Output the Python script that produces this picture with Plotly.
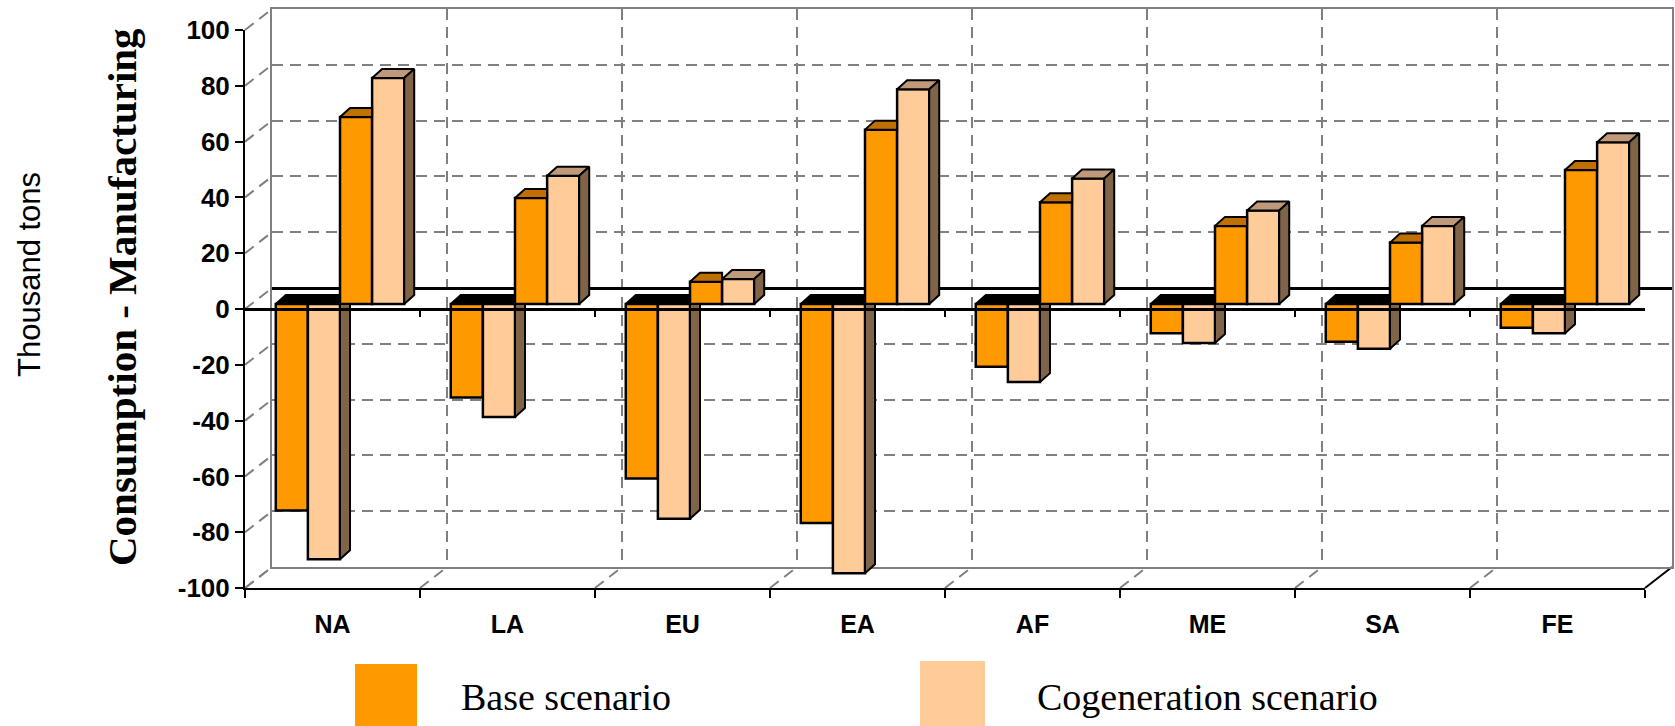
import plotly.graph_objects as go

W, H = 1675, 726

# ---- data -------------------------------------------------------------
regions = ["NA", "LA", "EU", "EA", "AF", "ME", "SA", "FE"]
consumption_base = [-74, -33.5, -62.5, -78.5, -22.5, -10.5, -13.5, -8.5]
consumption_cogen = [-91.5, -40.5, -77, -96.5, -28, -14, -16, -10.5]
manufacturing_base = [67, 38, 8, 62.5, 36.5, 28, 22, 48]
manufacturing_cogen = [81, 46, 9, 77, 45, 33.5, 28, 58]
y_ticks = list(range(-100, 101, 20))
y_tick_text = [str(v) for v in y_ticks]
legend_labels = ["Base scenario", "Cogeneration scenario"]

# ---- styling ----------------------------------------------------------
ORANGE = "#FF9900"
PEACH = "#FFCC99"
ORANGE_TOP = "#C07000"
PEACH_TOP = "#C0987A"
SIDE = "#806448"
GRID = "#808080"
GRID_DASH = "11px,7px"
SANS = "Liberation Sans, Arial, sans-serif"
SERIF = "Liberation Serif, Times New Roman, serif"

# pixel layout of the pseudo-3D box
FRONT_L, FRONT_R, FRONT_T, FRONT_B = 245, 1645, 30, 588
DEPTH_X, DEPTH_Y = 27, 21          # shift from front plane to back wall
BAR_X, BAR_Y = 7.5, 5              # shift from front plane to bar faces
CAT_PX = (FRONT_R - FRONT_L) / 8
VAL_PX = (FRONT_B - FRONT_T) / 200
FACE_DX, FACE_DY = 10, 9           # visible depth of each column


def px(x):
    return x / W


def py(y):
    return 1 - y / H


n_series = 4
gap = 1.45
bar_w = 1 / (n_series + gap)
ddx = FACE_DX / CAT_PX
ddy = FACE_DY / VAL_PX


def centers(k):
    return [i + 0.5 + (k - 1.5) * bar_w for i in range(len(regions))]


series = [
    (consumption_base, ORANGE, legend_labels[0]),
    (consumption_cogen, PEACH, legend_labels[1]),
    (manufacturing_base, ORANGE, legend_labels[0]),
    (manufacturing_cogen, PEACH, legend_labels[1]),
]

fig = go.Figure()

# empty traces so the back-wall and front-axis subplots are always built
fig.add_trace(go.Scatter(x=[], y=[], xaxis="x", yaxis="y",
                         showlegend=False, hoverinfo="skip"))

# front faces of the columns
for k, (vals, color, name) in enumerate(series):
    fig.add_trace(go.Bar(
        x=centers(k), y=vals, width=bar_w, name=name,
        marker=dict(color=color, line=dict(color="black", width=2.5)),
        xaxis="x2", yaxis="y2", showlegend=False, hoverinfo="skip",
    ))


def face(xs, ys, color):
    fig.add_trace(go.Scatter(
        x=xs, y=ys, mode="lines", fill="toself", fillcolor=color,
        line=dict(color="black", width=2), xaxis="x2", yaxis="y2",
        showlegend=False, hoverinfo="skip",
    ))


# top and side faces derived from the same values
neg_top_x, neg_top_y = [], []
neg_side_x, neg_side_y = [], []
ob_top_x, ob_top_y = [], []
pc_top_x, pc_top_y = [], []
pc_side_x, pc_side_y = [], []
for i in range(len(regions)):
    # consumption pair (below zero)
    x0 = centers(0)[i] - bar_w / 2
    x1 = centers(1)[i] + bar_w / 2
    v = consumption_cogen[i]
    neg_top_x += [x0, x1, x1, x0 + ddx, x0, None]
    neg_top_y += [0, 0, ddy, ddy, 0, None]
    neg_side_x += [x1, x1 + ddx, x1 + ddx, x1, x1, None]
    neg_side_y += [0, 0, v + ddy, v, 0, None]

    # manufacturing pair (above zero)
    a0 = centers(2)[i] - bar_w / 2
    a1 = centers(2)[i] + bar_w / 2
    t = manufacturing_base[i]
    ob_top_x += [a0, a1, a1, a0 + ddx, a0, None]
    ob_top_y += [t, t, t + ddy, t + ddy, t, None]

    b0 = centers(3)[i] - bar_w / 2
    b1 = centers(3)[i] + bar_w / 2
    t = manufacturing_cogen[i]
    pc_top_x += [b0, b1, b1 + ddx, b0 + ddx, b0, None]
    pc_top_y += [t, t, t + ddy, t + ddy, t, None]
    pc_side_x += [b1, b1 + ddx, b1 + ddx, b1, b1, None]
    pc_side_y += [0, ddy, t + ddy, t, 0, None]

face(neg_top_x, neg_top_y, "black")
face(neg_side_x, neg_side_y, SIDE)
face(ob_top_x, ob_top_y, ORANGE_TOP)
face(pc_top_x, pc_top_y, PEACH_TOP)
face(pc_side_x, pc_side_y, SIDE)

fig.add_trace(go.Scatter(x=[], y=[], xaxis="x3", yaxis="y3",
                         showlegend=False, hoverinfo="skip"))

# ---- axes -------------------------------------------------------------
boundaries = list(range(len(regions) + 1))

back_x = dict(
    domain=[px(FRONT_L + DEPTH_X), px(FRONT_R + DEPTH_X)], range=[0, 8],
    tickvals=boundaries, showticklabels=False, ticks="",
    showgrid=True, gridcolor=GRID, gridwidth=2, griddash=GRID_DASH,
    zeroline=False, showline=True, linecolor=GRID, linewidth=2, mirror=True,
    anchor="y", fixedrange=True, automargin=False,
)
back_y = dict(
    domain=[py(FRONT_B - DEPTH_Y), py(FRONT_T - DEPTH_Y)], range=[-100, 100],
    tickvals=y_ticks, showticklabels=False, ticks="",
    showgrid=True, gridcolor=GRID, gridwidth=2, griddash=GRID_DASH,
    zeroline=True, zerolinecolor="black", zerolinewidth=2.5,
    showline=True, linecolor=GRID, linewidth=2, mirror=True,
    anchor="x", fixedrange=True, automargin=False,
)
bar_x = dict(
    domain=[px(FRONT_L + BAR_X), px(FRONT_R + BAR_X)], range=[0, 8],
    visible=False, anchor="y2", fixedrange=True, automargin=False,
)
bar_y = dict(
    domain=[py(FRONT_B - BAR_Y), py(FRONT_T - BAR_Y)], range=[-100, 100],
    visible=False, anchor="x2", fixedrange=True, automargin=False,
)
front_x = dict(
    domain=[px(FRONT_L), px(FRONT_R)], range=[0, 8], anchor="y3",
    tickvals=[i + 0.5 for i in range(len(regions))], ticktext=regions,
    ticks="", showgrid=False, zeroline=False,
    showline=True, linecolor="black", linewidth=2,
    tickfont=dict(family=SANS, size=25, color="black", weight="bold"),
    ticklabelstandoff=13,
    minor=dict(tickvals=boundaries, ticks="outside", ticklen=8,
               tickwidth=2, tickcolor="black", showgrid=False),
    fixedrange=True, automargin=False,
)
front_y = dict(
    domain=[py(FRONT_B), py(FRONT_T)], range=[-100, 100], anchor="x3",
    tickvals=y_ticks, ticktext=y_tick_text,
    ticks="outside", ticklen=8, tickwidth=2,
    tickcolor="black", showgrid=False,
    zeroline=True, zerolinecolor="black", zerolinewidth=2.5,
    showline=True, linecolor="black", linewidth=2,
    tickfont=dict(family=SANS, size=26, color="black", weight="bold"),
    fixedrange=True, automargin=False,
)

# ---- walls, floor and tick marks on the zero line -----------------------
shapes = []
for v in y_ticks:
    yf = FRONT_B - (v + 100) * VAL_PX
    shapes.append(dict(
        type="line", xref="paper", yref="paper", layer="below",
        x0=px(FRONT_L), y0=py(yf), x1=px(FRONT_L + DEPTH_X), y1=py(yf - DEPTH_Y),
        line=dict(color=GRID, width=2, dash=GRID_DASH),
    ))
for b in boundaries:
    xf = FRONT_L + b * CAT_PX
    last = b == boundaries[-1]
    shapes.append(dict(
        type="line", xref="paper", yref="paper", layer="below",
        x0=px(xf), y0=py(FRONT_B), x1=px(xf + DEPTH_X), y1=py(FRONT_B - DEPTH_Y),
        line=dict(color="black" if last else GRID, width=2,
                  dash="solid" if last else GRID_DASH),
    ))
    if 0 < b < boundaries[-1]:
        shapes.append(dict(
            type="line", xref="x3", yref="y3", ysizemode="pixel", yanchor=0,
            x0=b, x1=b, y0=0, y1=-8,
            line=dict(color="black", width=2),
        ))

# legend swatches
shapes.append(dict(type="rect", xref="paper", yref="paper",
                   x0=px(355), x1=px(417), y0=py(664), y1=py(726),
                   fillcolor=ORANGE, line=dict(width=0)))
shapes.append(dict(type="rect", xref="paper", yref="paper",
                   x0=px(920), x1=px(985), y0=py(661), y1=py(726),
                   fillcolor=PEACH, line=dict(width=0)))

annotations = [
    dict(text="Thousand tons", x=px(29), y=py(275), xref="paper", yref="paper",
         textangle=-90, showarrow=False, xanchor="center", yanchor="middle",
         font=dict(family=SANS, size=31, color="black")),
    dict(text="<b>Consumption - Manufacturing</b>", x=px(122), y=py(297),
         xref="paper", yref="paper", textangle=-90, showarrow=False,
         xanchor="center", yanchor="middle",
         font=dict(family=SERIF, size=41, color="black")),
    dict(text=legend_labels[0], x=px(459), y=py(697), xref="paper", yref="paper",
         showarrow=False, xanchor="left", yanchor="middle",
         font=dict(family=SERIF, size=38, color="black")),
    dict(text=legend_labels[1], x=px(1035), y=py(697), xref="paper", yref="paper",
         showarrow=False, xanchor="left", yanchor="middle",
         font=dict(family=SERIF, size=38, color="black")),
]

fig.update_layout(
    width=W, height=H, autosize=False,
    margin=dict(l=0, r=0, t=0, b=0, pad=0, autoexpand=False),
    paper_bgcolor="white", plot_bgcolor="rgba(0,0,0,0)",
    barmode="overlay", showlegend=False,
    xaxis=back_x, yaxis=back_y,
    xaxis2=bar_x, yaxis2=bar_y,
    xaxis3=front_x, yaxis3=front_y,
    shapes=shapes, annotations=annotations,
)

fig.write_html("out.html", config={"displayModeBar": False})
